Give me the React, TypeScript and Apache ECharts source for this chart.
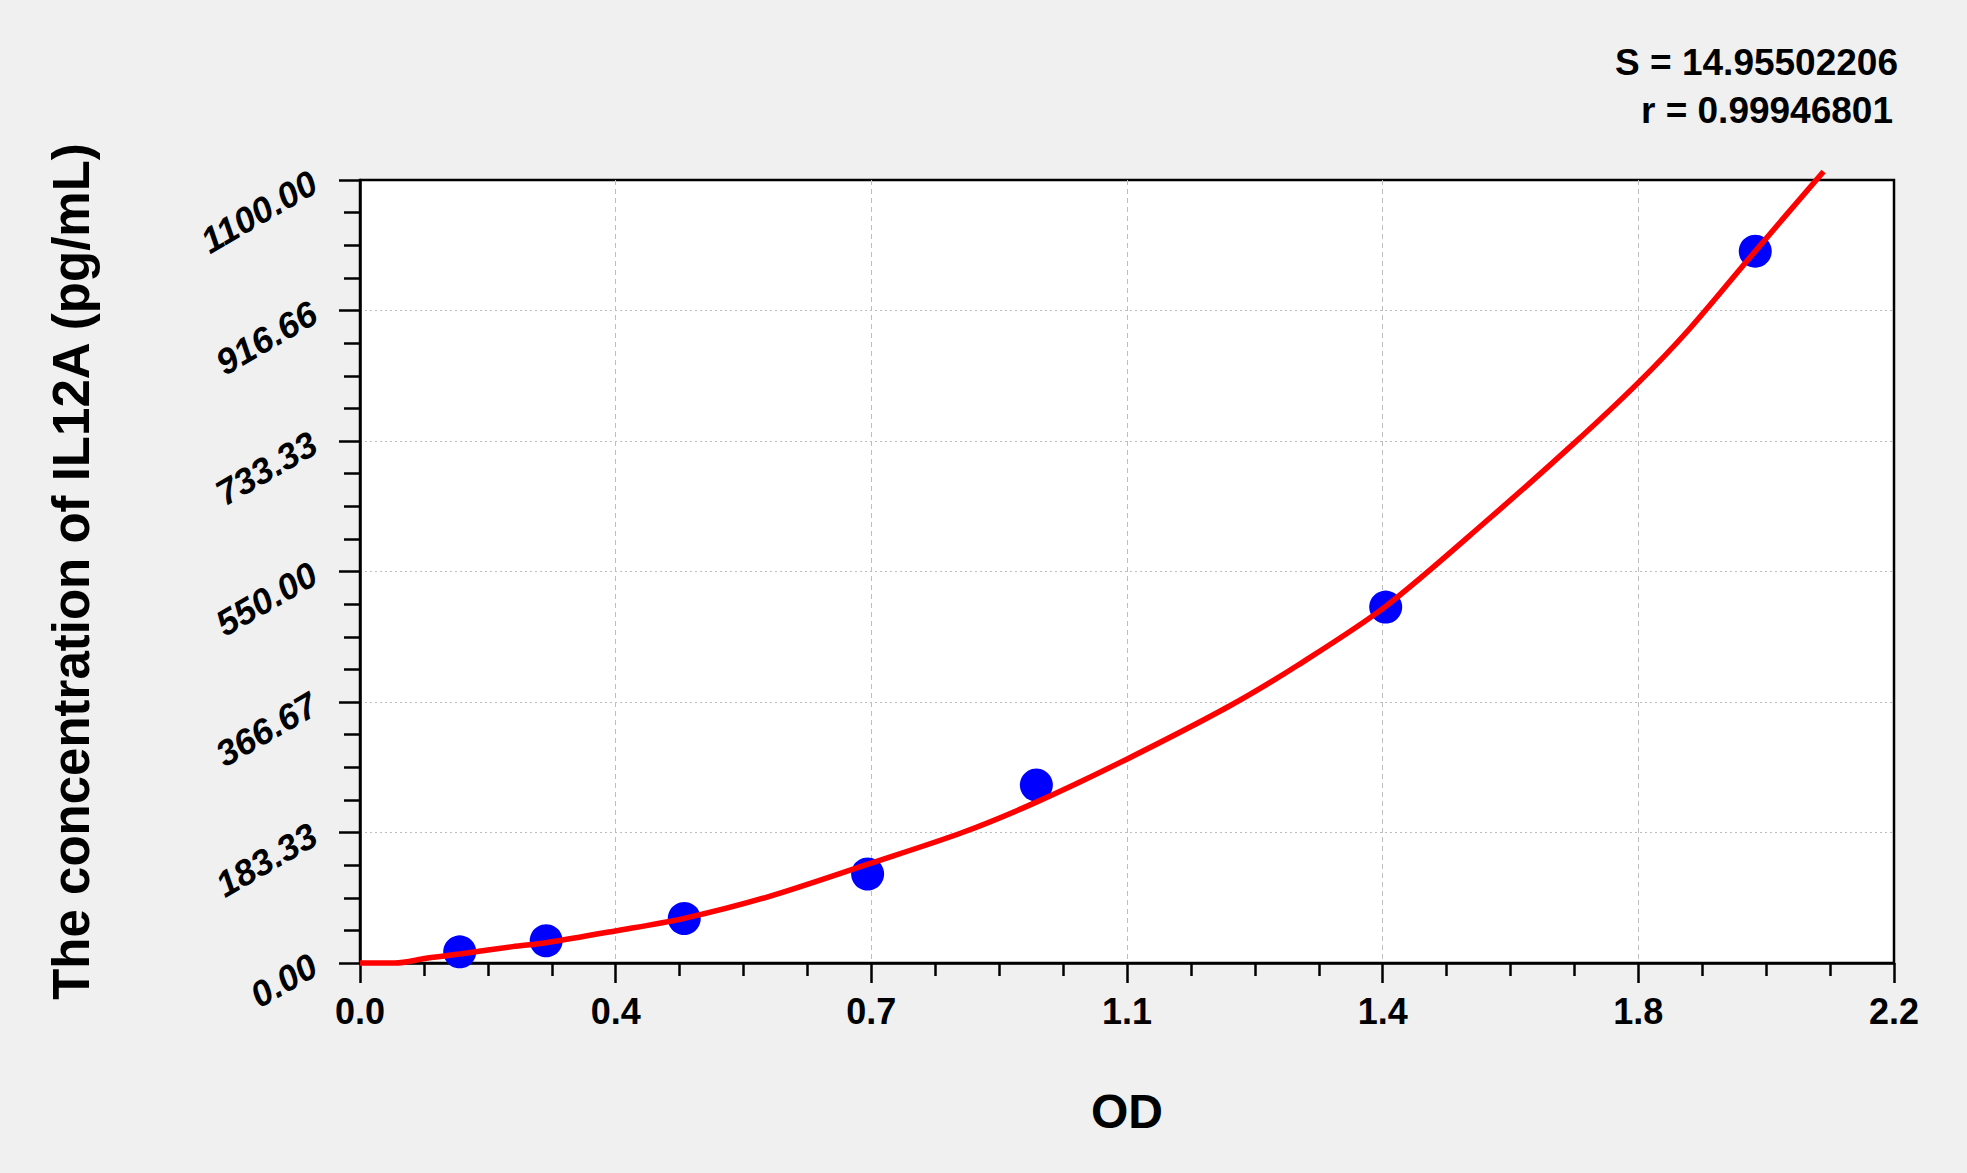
import React, { useRef, useEffect } from 'react'
import * as echarts from 'echarts'

// 刻度
const X_MAX = 2.2
const Y_MAX = 1100
const xLabels = ['0.0', '0.4', '0.7', '1.1', '1.4', '1.8', '2.2']
const yLabels = ['0.00', '183.33', '366.67', '550.00', '733.33', '916.66', '1100.00']

// 标准品
const odValues = [0.143, 0.267, 0.465, 0.728, 0.97, 1.471, 2.001]
const concValues = [15.63, 31.25, 62.5, 125, 250, 500, 1000]

// 拟合曲线
const curveOd = [0, 0.05, 0.095, 0.143, 0.219, 0.267, 0.366, 0.465, 0.585, 0.732, 0.863, 0.97, 1.099, 1.247, 1.346, 1.471, 1.618, 1.741, 1.833, 1.906, 2.001, 2.099]
const curveConc = [0, 0, 6.6, 12.6, 23, 28.5, 45, 62.7, 93, 140, 183, 226, 286, 361, 419, 501, 623, 730, 815, 890, 1000, 1112]

const statLines = ['S = 14.95502206', 'r = 0.99946801']

const FONT = '"Liberation Sans", Arial, sans-serif'

const App: React.FC = () => {
  const chartRef = useRef<HTMLDivElement>(null)

  useEffect(() => {
    if (!chartRef.current) return
    const chart = echarts.init(chartRef.current, undefined, { renderer: 'svg' })

    const xStep = X_MAX / 6
    const yStep = Y_MAX / 6

    chart.setOption({
      animation: false,
      backgroundColor: '#f0f0f0',
      textStyle: { fontFamily: FONT },
      grid: {
        left: 360,
        right: 73,
        top: 180,
        bottom: 210,
        show: true,
        backgroundColor: '#ffffff',
        borderColor: '#000',
        borderWidth: 2.5,
      },
      xAxis: {
        type: 'value',
        min: 0,
        max: X_MAX,
        interval: xStep,
        name: 'OD',
        nameLocation: 'middle',
        nameGap: 124,
        nameTextStyle: { fontSize: 48, fontWeight: 'bold', color: '#000', fontFamily: FONT },
        axisLine: { show: true, lineStyle: { color: '#000', width: 2.5 } },
        axisTick: { show: true, length: 20, lineStyle: { color: '#000', width: 2.5 } },
        minorTick: { show: true, splitNumber: 4, length: 13, lineStyle: { color: '#000', width: 2.5 } },
        axisLabel: {
          margin: 30,
          fontSize: 36,
          fontWeight: 'bold',
          color: '#000',
          fontFamily: FONT,
          formatter: (v: number) => xLabels[Math.round(v / xStep)] ?? '',
        },
        splitLine: {
          show: true,
          showMinLine: false,
          showMaxLine: false,
          lineStyle: { color: '#bdbdbd', width: 1, type: [5, 4] },
        },
      },
      yAxis: {
        type: 'value',
        min: 0,
        max: Y_MAX,
        interval: yStep,
        name: 'The concentration of IL12A (pg/mL)',
        nameLocation: 'middle',
        nameGap: 263,
        nameTextStyle: { fontSize: 51, fontWeight: 'bold', color: '#000', fontFamily: FONT },
        axisLine: { show: true, lineStyle: { color: '#000', width: 2.5 } },
        axisTick: { show: true, length: 21, lineStyle: { color: '#000', width: 2.5 } },
        minorTick: { show: true, splitNumber: 4, length: 16, lineStyle: { color: '#000', width: 2.5 } },
        axisLabel: {
          margin: 46,
          rotate: 30,
          fontSize: 36,
          fontWeight: 'bold',
          fontStyle: 'italic',
          color: '#000',
          fontFamily: FONT,
          formatter: (v: number) => yLabels[Math.round(v / yStep)] ?? '',
        },
        splitLine: {
          show: true,
          showMinLine: false,
          showMaxLine: false,
          lineStyle: { color: '#bdbdbd', width: 1, type: [2, 3] },
        },
      },
      graphic: statLines.map((t, i) => ({
        type: 'text',
        right: i === 0 ? 69 : 74,
        top: i === 0 ? 44 : 92,
        style: {
          text: t,
          fontSize: 37,
          fontWeight: 'bold',
          fontFamily: FONT,
          fill: '#000',
        },
      })),
      series: [
        {
          type: 'scatter',
          data: odValues.map((x, i) => [x, concValues[i]]),
          symbol: 'circle',
          symbolSize: 33,
          itemStyle: { color: '#0000ff', opacity: 1 },
          z: 2,
        },
        {
          type: 'line',
          data: curveOd.map((x, i) => [x, curveConc[i]]),
          smooth: 0.3,
          showSymbol: false,
          symbol: 'none',
          clip: false,
          lineStyle: { color: '#ff0000', width: 5.5 },
          z: 3,
        },
      ],
    })

    return () => {
      chart.dispose()
    }
  }, [])

  return (
    <div
      ref={chartRef}
      style={{ position: 'absolute', left: 0, top: 0, width: 1967, height: 1173 }}
    />
  )
}

export default App
